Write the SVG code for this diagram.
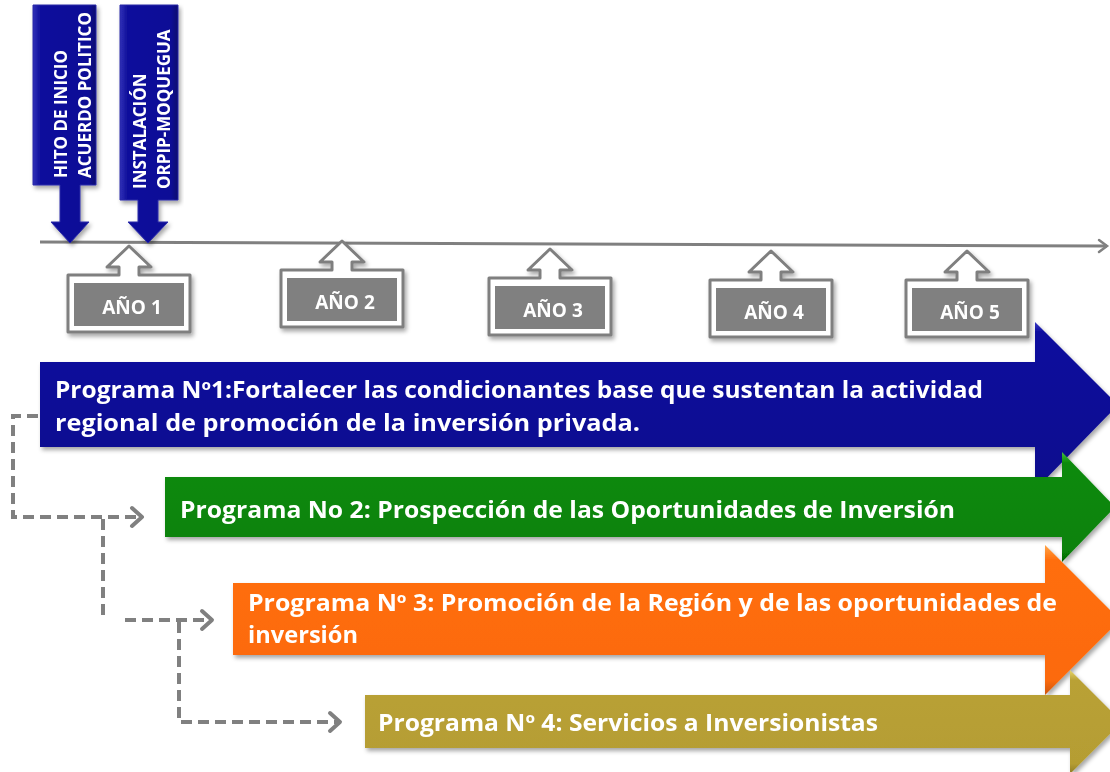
<svg xmlns="http://www.w3.org/2000/svg" width="1110" height="772" viewBox="0 0 1110 772">
<style>
.lbl{font-family:"Open Sans","Liberation Sans",sans-serif;font-weight:bold;fill:#ffffff}
.prog{font-size:23px}
.vt{font-size:17px}
.yr{font-size:19px;text-anchor:middle}
.callout{fill:#ffffff;stroke:#7f7f7f;stroke-width:3;stroke-linejoin:round}
.yrbox{fill:#808080;stroke:#ffffff;stroke-width:2}
.dash{fill:none;stroke:#808080;stroke-width:4;stroke-dasharray:11 6}
</style>
<defs>
<filter id="sh" x="-5%" y="-10%" width="115%" height="130%">
<feDropShadow dx="2" dy="3" stdDeviation="2" flood-color="#000" flood-opacity="0.35"/>
</filter>
<linearGradient id="gBlue" x1="0" y1="0" x2="0" y2="1">
<stop offset="0" stop-color="#3a3ac4"/><stop offset="0.06" stop-color="#0c0c9e"/><stop offset="0.9" stop-color="#08088f"/><stop offset="1" stop-color="#05056e"/>
</linearGradient>
<linearGradient id="gGreen" x1="0" y1="0" x2="0" y2="1">
<stop offset="0" stop-color="#46c23e"/><stop offset="0.1" stop-color="#0a8a0a"/><stop offset="0.9" stop-color="#078207"/><stop offset="1" stop-color="#056405"/>
</linearGradient>
<linearGradient id="gOrange" x1="0" y1="0" x2="0" y2="1">
<stop offset="0" stop-color="#ffa64a"/><stop offset="0.1" stop-color="#ff6e0c"/><stop offset="0.9" stop-color="#fc6a0a"/><stop offset="1" stop-color="#cc5506"/>
</linearGradient>
<linearGradient id="gOlive" x1="0" y1="0" x2="0" y2="1">
<stop offset="0" stop-color="#e8d66a"/><stop offset="0.1" stop-color="#b9a136"/><stop offset="0.9" stop-color="#b59d33"/><stop offset="1" stop-color="#8e7b25"/>
</linearGradient>
<linearGradient id="gVBlue" x1="0" y1="0" x2="1" y2="0">
<stop offset="0" stop-color="#3030b8"/><stop offset="0.12" stop-color="#10109c"/><stop offset="0.88" stop-color="#0c0c96"/><stop offset="1" stop-color="#06066e"/>
</linearGradient>
<marker id="chev" markerUnits="userSpaceOnUse" markerWidth="18" markerHeight="24" refX="13" refY="12" orient="auto" overflow="visible">
<path d="M3,3 L13,12 L3,21" fill="none" stroke="#808080" stroke-width="4" stroke-linecap="round" stroke-linejoin="round"/>
</marker>
<marker id="tl" markerUnits="userSpaceOnUse" markerWidth="14" markerHeight="16" refX="11" refY="8" orient="auto" overflow="visible">
<path d="M3,2 L11,8 L3,14" fill="none" stroke="#808080" stroke-width="2.5" stroke-linecap="round"/>
</marker>
</defs>

<g id="timeline">
<line x1="40" y1="242" x2="1107" y2="246" stroke="#808080" stroke-width="3" marker-end="url(#tl)"/>
</g>

<g id="hito-inicio" filter="url(#sh)">
<path d="M33,5 H96 V185 H80 V222 H89 L70,243 L51,222 H60 V185 H33 Z" fill="url(#gVBlue)" stroke="#2a2aa8" stroke-width="1"/>
<text class="lbl vt" transform="translate(67,178) rotate(-90)">HITO DE INICIO</text>
<text class="lbl vt" transform="translate(91,178) rotate(-90)">ACUERDO POLITICO</text>
</g>

<g id="instalacion" filter="url(#sh)">
<path d="M120,5 H178 V200 H158 V222 H168 L148,243 L128,222 H138 V200 H120 Z" fill="url(#gVBlue)" stroke="#2a2aa8" stroke-width="1"/>
<text class="lbl vt" transform="translate(146,189) rotate(-90)">INSTALACIÓN</text>
<text class="lbl vt" transform="translate(170,189) rotate(-90)">ORPIP-MOQUEGUA</text>
</g>

<g id="anio1" transform="translate(129,275)" filter="url(#sh)">
<path class="callout" d="M-61,0 H-10 V-8 H-22 L0,-29 L22,-8 H10 V0 H61 V57 H-61 Z"/>
<rect class="yrbox" x="-56" y="7" width="112" height="45"/>
<text class="lbl yr" x="3" y="39">AÑO 1</text>
</g>
<g id="anio2" transform="translate(342,270)" filter="url(#sh)">
<path class="callout" d="M-61,0 H-10 V-8 H-22 L0,-29 L22,-8 H10 V0 H61 V57 H-61 Z"/>
<rect class="yrbox" x="-56" y="7" width="112" height="45"/>
<text class="lbl yr" x="3" y="39">AÑO 2</text>
</g>
<g id="anio3" transform="translate(550,278)" filter="url(#sh)">
<path class="callout" d="M-61,0 H-10 V-8 H-22 L0,-29 L22,-8 H10 V0 H61 V57 H-61 Z"/>
<rect class="yrbox" x="-56" y="7" width="112" height="45"/>
<text class="lbl yr" x="3" y="39">AÑO 3</text>
</g>
<g id="anio4" transform="translate(771,280)" filter="url(#sh)">
<path class="callout" d="M-61,0 H-10 V-8 H-22 L0,-29 L22,-8 H10 V0 H61 V57 H-61 Z"/>
<rect class="yrbox" x="-56" y="7" width="112" height="45"/>
<text class="lbl yr" x="3" y="39">AÑO 4</text>
</g>
<g id="anio5" transform="translate(967,280)" filter="url(#sh)">
<path class="callout" d="M-61,0 H-10 V-8 H-22 L0,-29 L22,-8 H10 V0 H61 V57 H-61 Z"/>
<rect class="yrbox" x="-56" y="7" width="112" height="45"/>
<text class="lbl yr" x="3" y="39">AÑO 5</text>
</g>

<g id="programa1" filter="url(#sh)">
<path d="M40,362 H1035 V322 L1118,405 L1035,490 V447 H40 Z" fill="url(#gBlue)"/>
<text class="lbl prog" x="55" y="398" textLength="928" lengthAdjust="spacingAndGlyphs">Programa Nº1:Fortalecer las condicionantes base que sustentan la actividad</text>
<text class="lbl prog" x="55" y="431" textLength="585" lengthAdjust="spacingAndGlyphs">regional de promoción de la inversión privada.</text>
</g>

<g id="programa2" filter="url(#sh)">
<path d="M165,477 H1062 V452 L1115,507 L1062,562 V537 H165 Z" fill="url(#gGreen)"/>
<text class="lbl prog" x="180" y="518" textLength="775" lengthAdjust="spacingAndGlyphs">Programa No 2: Prospección de las Oportunidades de Inversión</text>
</g>

<g id="programa3" filter="url(#sh)">
<path d="M233,583 H1045 V545 L1120,620 L1045,695 V655 H233 Z" fill="url(#gOrange)"/>
<text class="lbl prog" x="248" y="611" textLength="809" lengthAdjust="spacingAndGlyphs">Programa Nº 3: Promoción de la Región y de las oportunidades de</text>
<text class="lbl prog" x="248" y="643" textLength="110" lengthAdjust="spacingAndGlyphs">inversión</text>
</g>

<g id="programa4" filter="url(#sh)">
<path d="M365,695 H1070 V670 L1122,722 L1070,774 V748 H365 Z" fill="url(#gOlive)"/>
<text class="lbl prog" x="378" y="731" textLength="500" lengthAdjust="spacingAndGlyphs">Programa Nº 4: Servicios a Inversionistas</text>
</g>

<g id="connectors">
<path class="dash" d="M38,416 H13 V517 H142" marker-end="url(#chev)"/>
<path class="dash" d="M103,519 V617"/>
<path class="dash" d="M125,620 H212" marker-end="url(#chev)"/>
<path class="dash" d="M179,622 V722 H340" marker-end="url(#chev)"/>
</g>
</svg>
